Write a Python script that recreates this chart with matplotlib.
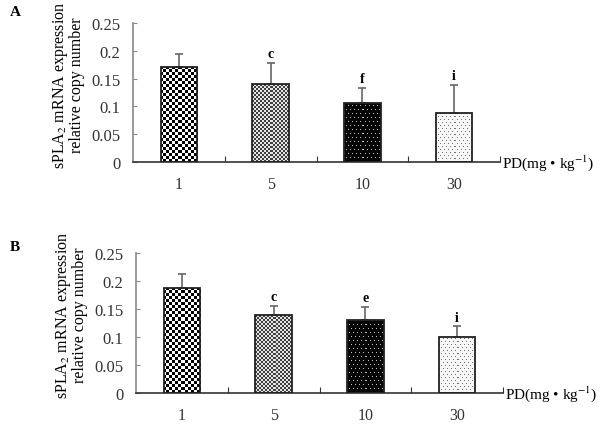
import numpy as np
import matplotlib
matplotlib.use('Agg')
import matplotlib.pyplot as plt

plt.rcParams['font.family'] = ['Liberation Serif', 'DejaVu Serif']
plt.rcParams['mathtext.fontset'] = 'stix'

doses = ['1', '5', '10', '30']
values_a = [0.171, 0.141, 0.107, 0.089]
errors_a = [0.024, 0.037, 0.026, 0.050]
letters_a = ['', 'c', 'f', 'i']
values_b = [0.188, 0.139, 0.130, 0.100]
errors_b = [0.024, 0.016, 0.024, 0.019]
letters_b = ['', 'c', 'e', 'i']
yticks = [0, 0.05, 0.1, 0.15, 0.2, 0.25]
ytick_labels = ['0', '0.05', '0.1', '0.15', '0.2', '0.25']


def texture(kind, h, w):
    # one value per pixel so the fill looks like the old halftone patterns
    i, j = np.indices((h, w))
    img = np.ones((h, w, 3))
    if kind == 0:  # checkerboard
        m = ((i // 3 + j // 3) % 2) == 0
        img[m] = 0.0
    elif kind == 1:  # fine dotted grey
        m = ((i // 2 + j // 2) % 2) == 0
        img[m] = 0.25
        img[~m] = 0.9
    elif kind == 2:  # black with white dots
        img[:] = 0.02
        m = (i % 4 == 0) & ((j + 2 * ((i // 4) % 2)) % 4 == 0)
        img[m] = 0.75
    else:  # white with sparse grey dots
        img[:] = 0.97
        m = (i % 3 == 0) & ((j + 2 * ((i // 3) % 2)) % 4 == 0)
        img[m] = 0.45
    return img


def panel(ax, values, errors, letters):
    x = np.arange(1, len(doses) + 1)
    bars = ax.bar(x, values, width=0.4, facecolor='none', edgecolor='#222222',
                  linewidth=1.3, zorder=3)
    ax.errorbar(x, values, yerr=[np.zeros(len(errors)), errors], fmt='none',
                ecolor='#666666', elinewidth=1.2, capsize=3, capthick=1.2, zorder=2)
    h, w = 140, 368
    for k, b in enumerate(bars):
        im = ax.imshow(texture(k, h, w), extent=(0.5, 4.5, 0, 0.25), origin='lower',
                       aspect='auto', interpolation='nearest', zorder=1)
        im.set_clip_path(b)
    ax.set_xlim(0.5, 4.5)
    ax.set_ylim(0, 0.25)

    for xi, v, e, t in zip(x, values, errors, letters):
        if t:
            ax.text(xi, v + e + 0.005, t, ha='center', va='bottom', fontsize=10,
                    fontweight='bold')

    for s in ['top', 'right']:
        ax.spines[s].set_visible(False)
    ax.spines['left'].set_color('#888888')
    ax.spines['left'].set_linewidth(1.2)
    ax.spines['bottom'].set_color('#333333')
    ax.spines['bottom'].set_linewidth(1.2)
    ax.set_yticks(yticks)
    ax.set_yticklabels(ytick_labels)
    ax.tick_params(axis='y', direction='in', length=3, color='#888888', pad=9,
                   labelsize=12, labelcolor='#333333')
    ax.set_xticks([1.5, 2.5, 3.5, 4.5])
    ax.set_xticklabels([])
    ax.tick_params(axis='x', which='major', direction='in', length=4, color='#333333')
    ax.set_xticks(x, minor=True)
    ax.set_xticklabels(doses, minor=True)
    ax.tick_params(axis='x', which='minor', length=0, pad=10, labelsize=11.5,
                   labelcolor='#333333')

    ax.set_ylabel('sPLA$_2$ mRNA expression\nrelative copy number', fontsize=11.5,
                  linespacing=0.95)
    ax.yaxis.set_label_coords(-0.13, 0.56)
    ax.text(1.005, 0.0, 'PD(mg • kg$^{-1}$)', transform=ax.transAxes, ha='left',
            va='center', fontsize=11)


fig = plt.figure(figsize=(6, 4.31), dpi=100)
ax_a = fig.add_axes([133 / 600, (431 - 163) / 431, 367 / 600, 139 / 431])
ax_b = fig.add_axes([136 / 600, (431 - 394) / 431, 367 / 600, 140 / 431])
panel(ax_a, values_a, errors_a, letters_a)
panel(ax_b, values_b, errors_b, letters_b)
fig.text(10 / 600, 1 - 13 / 431, 'A', ha='left', va='center', fontsize=11,
         fontweight='bold')
fig.text(10 / 600, 1 - 248 / 431, 'B', ha='left', va='center', fontsize=11,
         fontweight='bold')
fig.savefig('out.png', dpi=100)
